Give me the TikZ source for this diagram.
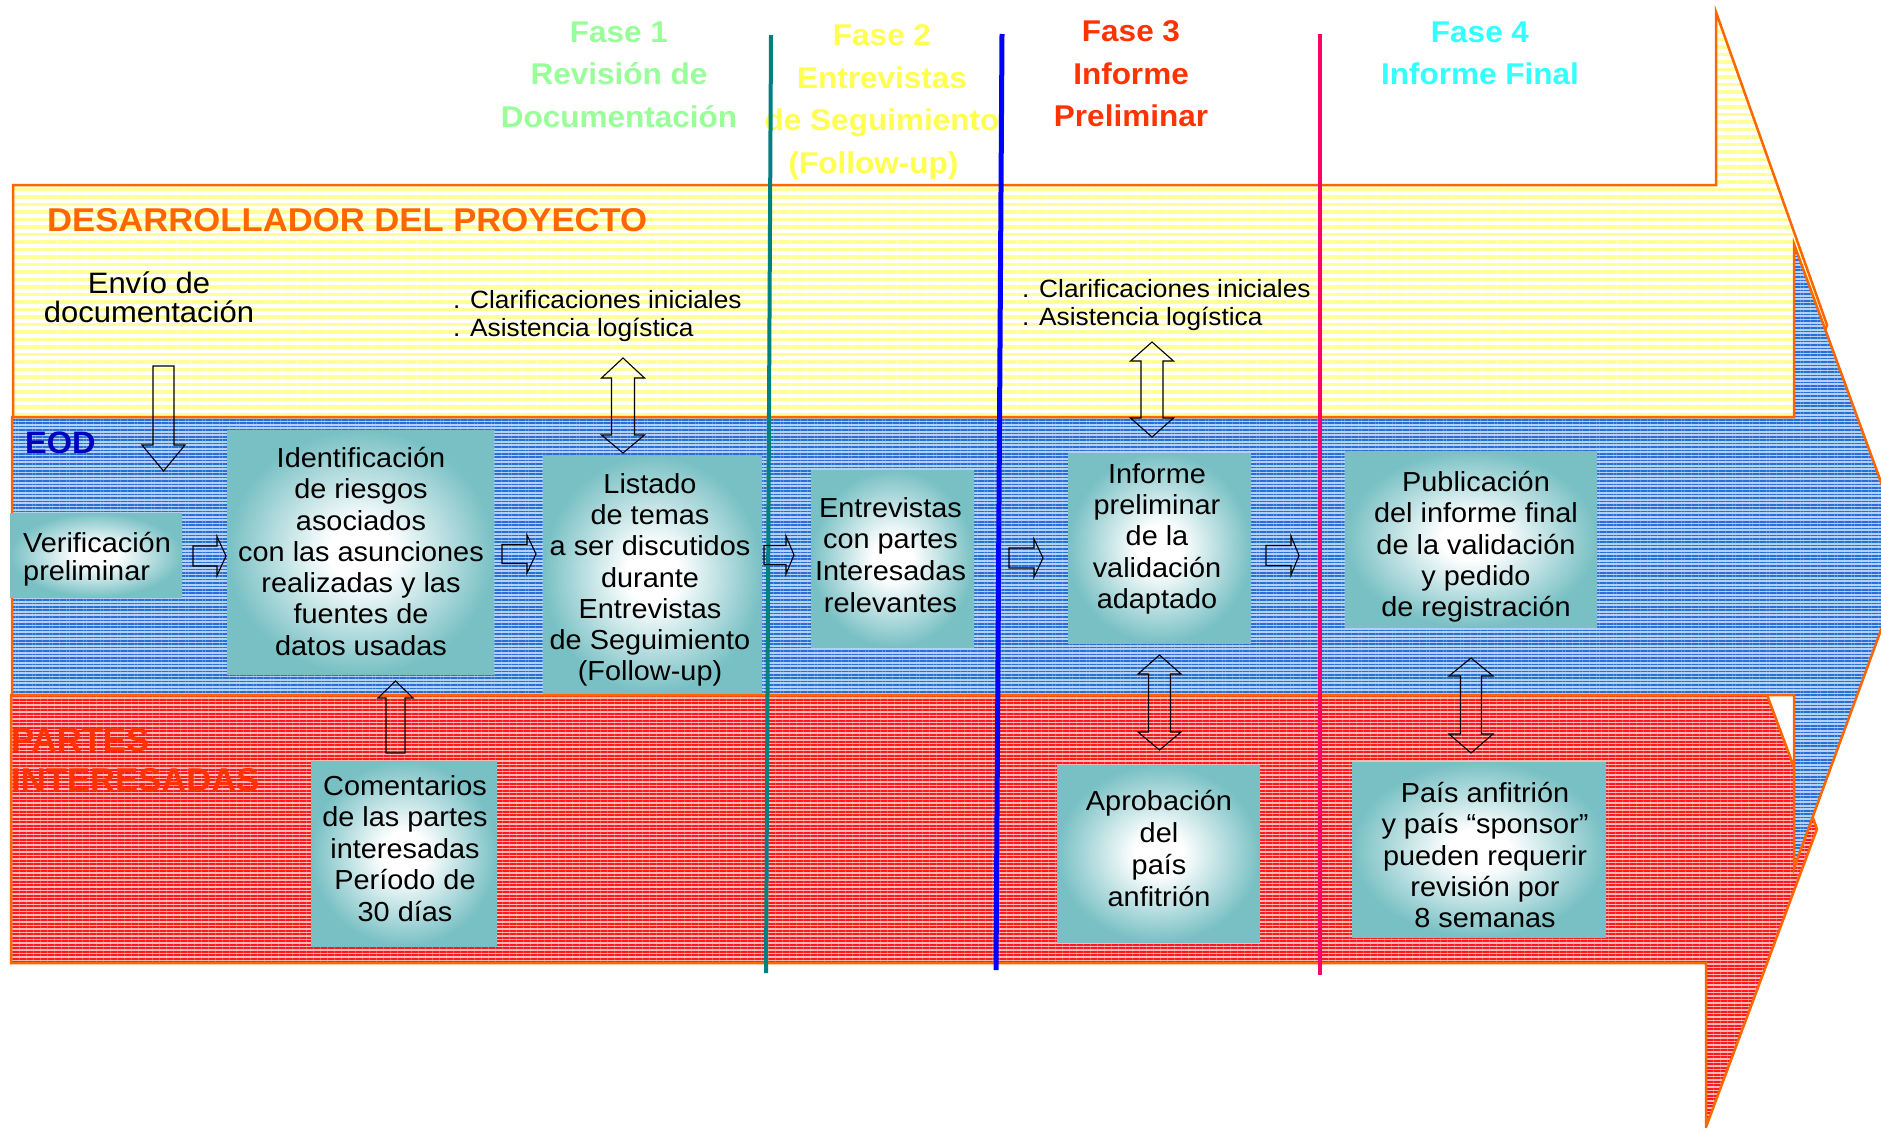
\documentclass[tikz,border=0pt]{standalone}
\usepackage{fontspec}
\setmainfont{Liberation Sans}[FakeStretch=1.05]
\usetikzlibrary{patterns.meta}
\definecolor{bandorange}{RGB}{255,102,0}
\definecolor{yelstripe}{RGB}{255,255,150}
\definecolor{bluebase}{RGB}{180,208,244}
\definecolor{bluestripe}{RGB}{40,110,215}
\definecolor{redbase}{RGB}{255,185,185}
\definecolor{redstripe}{RGB}{255,25,25}
\definecolor{boxteal}{RGB}{120,192,196}
\definecolor{eodblue}{RGB}{0,0,190}
\definecolor{partesred}{RGB}{255,51,0}
\definecolor{fonegreen}{RGB}{153,255,153}
\definecolor{ftwoyellow}{RGB}{255,255,80}
\definecolor{fthreered}{RGB}{255,51,0}
\definecolor{ffourcyan}{RGB}{51,255,255}
\definecolor{lineteal}{RGB}{0,128,128}
\definecolor{lineblue}{RGB}{0,0,255}
\definecolor{linemag}{RGB}{255,0,102}
\pgfdeclareradialshading{boxshade}{\pgfpoint{0bp}{0bp}}{color(0bp)=(white); color(6bp)=(white); color(25bp)=(boxteal); color(50bp)=(boxteal)}
\tikzset{
  band/.style={draw=bandorange, line width=2.5},
  yband/.style={band, preaction={fill=white}, pattern={Lines[angle=0,distance=7.5pt,line width=3.6pt]}, pattern color=yelstripe},
  bband/.style={band, preaction={fill=bluebase}, pattern={Lines[angle=0,distance=3.4pt,line width=1.7pt]}, pattern color=bluestripe},
  rband/.style={band, preaction={fill=redbase}, pattern={Lines[angle=0,distance=3.5pt,line width=2pt]}, pattern color=redstripe},
  phase/.style={inner sep=0, align=center, anchor=north, font=\bfseries\fontsize{30}{42.5}\selectfont},
  lane/.style={inner sep=0, font=\bfseries\fontsize{33}{40}\selectfont},
  box/.style={shade, shading=boxshade, inner sep=0, draw=none},
  txt/.style={inner sep=0, align=center, anchor=north, font=\fontsize{27.5}{31.3}\selectfont},
  note/.style={inner sep=0, align=left, anchor=north west, font=\fontsize{25}{28.5}\selectfont},
  blk/.style={draw=black, line width=1.1, line join=miter},
  divider/.style={line width=4},
  pics/dbl/.style n args={6}{code={\draw[blk] (-#5,#2) -- (-#6,#2) -- (0,#1) -- (#6,#2) -- (#5,#2) -- (#5,#3) -- (#6,#3) -- (0,#4) -- (-#6,#3) -- (-#5,#3) -- cycle;}},
  pics/rar/.style n args={4}{code={\draw[blk] ({-#1/2},{-#2}) -- ({#1/2-#4},{-#2}) -- ({#1/2-#4},{-#3}) -- ({#1/2},0) -- ({#1/2-#4},{#3}) -- ({#1/2-#4},{#2}) -- ({-#1/2},{#2}) -- cycle;}}
}
\begin{document}
\begin{tikzpicture}[x=1pt,y=-1pt]
\useasboundingbox (0,0) rectangle (1881,1127);
\fill[white] (0,0) rectangle (1881,1127);
\clip (0,0) rectangle (1881,1127);

% lanes (big arrows)
\path[yband] (13,185) -- (1716,185) -- (1716,12) -- (1827,325) -- (1716,638) -- (1716,465) -- (13,465) -- cycle;
\path[rband] (11,695) -- (1706,695) -- (1706,531) -- (1817,829) -- (1706,1127) -- (1706,963) -- (11,963) -- cycle;
\path[bband] (12,417) -- (1794,417) -- (1794,244) -- (1908,556) -- (1794,868) -- (1794,695) -- (12,695) -- cycle;

% phase titles
\node[phase, text=fonegreen] (fase1) at (619,21.5) {Fase 1\\Revisión de\\Documentación};
\node[phase, text=ftwoyellow] (fase2) at (882,24.5) {Fase 2\\Entrevistas\\de Seguimiento\\(Follow-up)\hspace*{17pt}};
\node[phase, text=fthreered] (fase3) at (1131,20.5) {Fase 3\\Informe\\Preliminar};
\node[phase, text=ffourcyan] (fase4) at (1480,21.5) {Fase 4\\Informe Final};

% phase dividers
\coordinate (d1t) at (771,35); \coordinate (d1b) at (766,973);
\coordinate (d2t) at (1002,34); \coordinate (d2b) at (996,970);
\coordinate (d3t) at (1320,34); \coordinate (d3b) at (1320,975);
\draw[divider, lineteal] (d1t) -- (d1b);
\draw[divider, lineblue, line width=5] (d2t) -- (d2b);
\draw[divider, linemag] (d3t) -- (d3b);

% lane labels
\node[lane, anchor=base west, text=bandorange] (dev) at (47,231) {DESARROLLADOR DEL PROYECTO};
\node[lane, anchor=base west, text=eodblue, font=\bfseries\fontsize{31}{36}\selectfont] (eod) at (25,453) {EOD};
\node[lane, anchor=north west, align=left, text=partesred, font=\bfseries\fontsize{33}{40}\selectfont] (partes) at (11,728.4) {PARTES\\INTERESADAS};

% free texts
\node[txt, font=\fontsize{29.5}{29}\selectfont] (envio) at (149,272) {Envío de\\documentación};
\node[note] (clar1) at (453,290) {. Clarificaciones iniciales\\. Asistencia logística};
\node[note] (clar2) at (1022,279) {. Clarificaciones iniciales\\. Asistencia logística};

% boxes
\node[box, minimum width=172, minimum height=84] (verif) at (96,555) {};
\node[box, minimum width=267, minimum height=244] (ident) at (360.5,552) {};
\node[box, minimum width=219, minimum height=238] (listado) at (652.5,574) {};
\node[box, minimum width=163, minimum height=177] (entrev) at (892.5,558.5) {};
\node[box, minimum width=183, minimum height=190] (informe) at (1159.5,548) {};
\node[box, minimum width=252, minimum height=176] (public) at (1471,539) {};
\node[box, minimum width=186, minimum height=185] (coment) at (404,853.5) {};
\node[box, minimum width=203, minimum height=177] (aprob) at (1158.5,853.5) {};
\node[box, minimum width=254, minimum height=175] (pais) at (1479,849.5) {};

% box texts
\node[txt, anchor=north west, align=left, font=\fontsize{27.5}{28}\selectfont] (verifT) at (23,532) {Verificación\\preliminar};
\node[txt] (identT) at (361,447) {Identificación\\de riesgos\\asociados\\con las asunciones\\realizadas y las\\fuentes de\\datos usadas};
\node[txt] (listadoT) at (650,473) {Listado\\de temas\\a ser discutidos\\durante\\Entrevistas\\de Seguimiento\\(Follow-up)};
\node[txt, font=\fontsize{27.5}{31.7}\selectfont] (entrevT) at (890.5,497) {Entrevistas\\con partes\\Interesadas\\relevantes};
\node[txt] (informeT) at (1157,463) {Informe\\preliminar\\de la\\validación\\adaptado};
\node[txt] (publicT) at (1476,471) {Publicación\\del informe final\\de la validación\\y pedido\\de registración};
\node[txt, font=\fontsize{27.5}{31.5}\selectfont] (comentT) at (405,775) {Comentarios\\de las partes\\interesadas\\Período de\\30 días};
\node[txt, font=\fontsize{27.5}{32}\selectfont] (aprobT) at (1159,790) {Aprobación\\del\\país\\anfitrión};
\node[txt] (paisT) at (1485,782) {País anfitrión\\y país “sponsor”\\pueden requerir\\revisión por\\8 semanas};

% block arrows (outlined, unfilled)
\draw[blk] (153,366) -- (174,366) -- (174,445) -- (185,445) -- (163.5,471) -- (142,445) -- (153,445) -- cycle;
\draw[blk] (386,753) -- (386,698) -- (378,698) -- (395.5,681) -- (413,698) -- (405,698) -- (405,753) -- cycle;
\pic at (623,0) {dbl={358}{378}{435}{453}{11.5}{21.5}};
\pic at (1152,0) {dbl={342}{361}{418}{437}{11}{21.5}};
\pic at (1159.5,0) {dbl={655}{674}{732}{750}{11}{21.5}};
\pic at (1471,0) {dbl={658}{676}{734}{753}{10.5}{22}};
\pic at (209.5,556) {rar={33}{10}{19.5}{9}};
\pic at (519,554) {rar={34}{9.5}{19}{9}};
\pic at (779,555) {rar={30}{9.5}{19}{8}};
\pic at (1026,558) {rar={34}{10}{19}{9}};
\pic at (1282.5,555.5) {rar={33}{10}{19.5}{8}};
\end{tikzpicture}
\end{document}
